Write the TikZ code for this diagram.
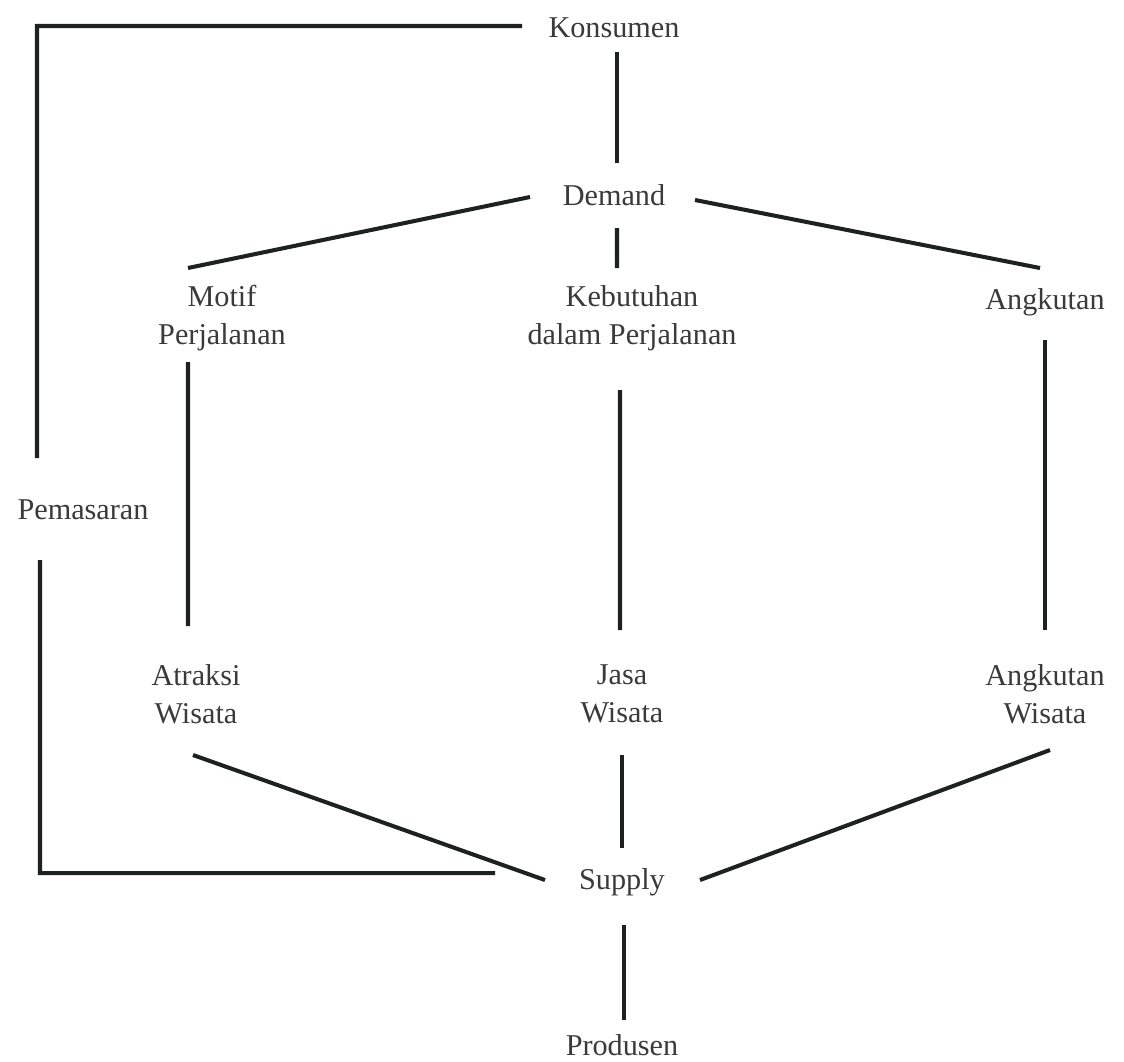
\documentclass[tikz,border=0pt]{standalone}
\usepackage{fontspec}
\setmainfont{Liberation Serif}
\usetikzlibrary{calc}
\definecolor{ink}{HTML}{1E221E}
\definecolor{txt}{HTML}{3A3A3A}
\tikzset{
 lbl/.style={align=center, inner sep=0pt, text=txt, font=\fontsize{8.6}{10.8}\selectfont},
 link/.style={draw=ink, line width=1.15pt}
}
\begin{document}
\begin{tikzpicture}
 \useasboundingbox (0,0) rectangle (11.24,10.61);
 \draw node[lbl] (konsumen) at (6.14,10.33) {Konsumen};
 \draw node[lbl] (demand) at (6.14,8.66) {Demand};
 \draw node[lbl] (motif) at (2.22,7.43) {Motif\\Perjalanan};
 \draw node[lbl] (kebutuhan) at (6.32,7.43) {Kebutuhan\\dalam Perjalanan};
 \draw node[lbl] (angkutan) at (10.45,7.59) {Angkutan};
 \draw node[lbl] (pemasaran) at (0.83,5.51) {Pemasaran};
 \draw node[lbl] (atraksi) at (1.96,3.67) {Atraksi\\Wisata};
 \draw node[lbl] (jasa) at (6.22,3.67) {Jasa\\Wisata};
 \draw node[lbl] (angkwis) at (10.45,3.67) {Angkutan\\Wisata};
 \draw node[lbl] (supply) at (6.22,1.79) {Supply};
 \draw node[lbl] (produsen) at (6.22,0.16) {Produsen};

 \coordinate (cornerTop) at (0.37,10.35);
 \coordinate (cornerBot) at (0.40,1.88);

 \draw[link] ($(konsumen)+(-0.92,0.02)$) -- (cornerTop) -- ($(pemasaran)+(-0.46,0.52)$);
 \draw[link] ($(pemasaran)+(-0.43,-0.50)$) -- (cornerBot) -- ($(supply)+(-1.27,0.09)$);

 \draw[link] ($(konsumen)+(0.03,-0.24)$) -- ($(demand)+(0.03,0.32)$);
 \draw[link] ($(demand)+(-0.84,-0.02)$) -- ($(motif)+(-0.34,0.50)$);
 \draw[link] ($(demand)+(0.03,-0.33)$) -- ($(kebutuhan)+(-0.15,0.50)$);
 \draw[link] ($(demand)+(0.81,-0.05)$) -- ($(angkutan)+(-0.05,0.34)$);

 \draw[link] ($(motif)+(-0.34,-0.44)$) -- ($(atraksi)+(-0.08,0.68)$);
 \draw[link] ($(kebutuhan)+(-0.12,-0.72)$) -- ($(jasa)+(-0.02,0.64)$);
 \draw[link] ($(angkutan)+(0,-0.38)$) -- ($(angkwis)+(0,0.64)$);

 \draw[link] ($(atraksi)+(-0.03,-0.61)$) -- ($(supply)+(-0.77,0.02)$);
 \draw[link] ($(jasa)+(0,-0.61)$) -- ($(supply)+(0,0.34)$);
 \draw[link] ($(angkwis)+(0.05,-0.56)$) -- ($(supply)+(0.78,0.02)$);
 \draw[link] ($(supply)+(0.02,-0.43)$) -- ($(produsen)+(0.02,0.25)$);
\end{tikzpicture}
\end{document}
